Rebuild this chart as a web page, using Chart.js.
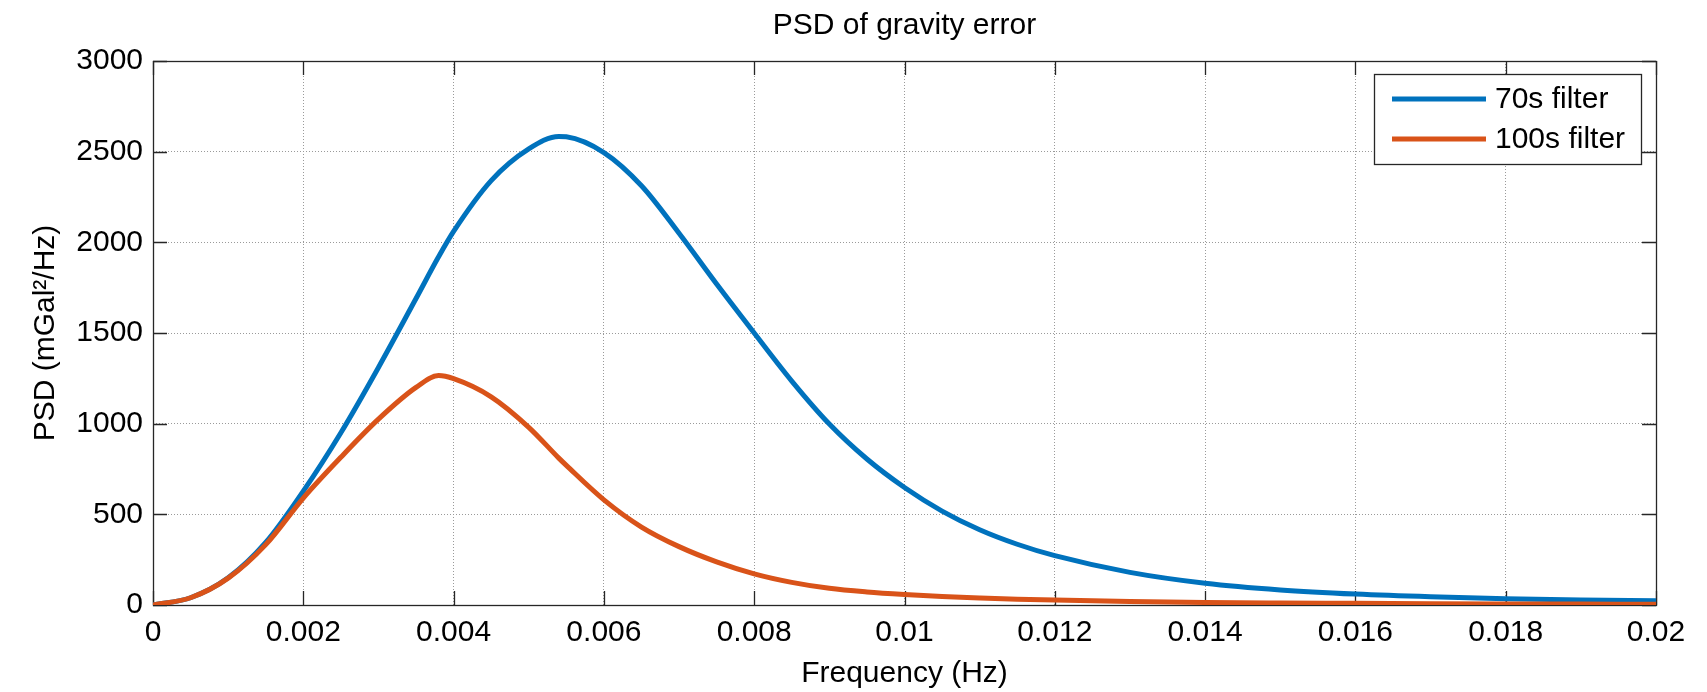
<!DOCTYPE html>
<html>
<head>
<meta charset="utf-8">
<title>PSD of gravity error</title>
<script src="https://cdn.jsdelivr.net/npm/chart.js@4.4.1/dist/chart.umd.min.js"></script>
<style>
  html, body { margin: 0; padding: 0; background: #fff; }
  #wrap { width: 1707px; height: 692px; }
</style>
</head>
<body>
<div id="wrap"><canvas id="psd" width="1707" height="692"></canvas></div>
<script>
/* ================= DATA ================= */
const freq = [
  0, 0.0005, 0.001, 0.0015, 0.002, 0.0025, 0.003, 0.0035, 0.0038, 0.004,
  0.0045, 0.005, 0.0054, 0.0055, 0.006, 0.0065, 0.007, 0.0075, 0.008, 0.0085,
  0.009, 0.0095, 0.01, 0.0105, 0.011, 0.0115, 0.012, 0.013, 0.014, 0.015,
  0.016, 0.017, 0.018, 0.019, 0.02
];
const psd70 = [
  0, 40, 150, 345, 628, 950, 1310, 1690, 1920, 2060,
  2340, 2515, 2584, 2582, 2495, 2312, 2050, 1770, 1500, 1235,
  998, 805, 648, 518, 415, 335, 272, 180, 120, 83,
  60, 45, 35, 28, 23
];
const psd100 = [
  0, 40, 148, 333, 590, 815, 1025, 1200, 1265, 1248,
  1148, 980, 810, 770, 580, 430, 322, 238, 172, 125,
  92, 72, 58, 47, 39, 32, 27, 19, 14, 11,
  9, 7, 6, 5, 4
];
const seriesNames = ["70s filter", "100s filter"];
const seriesColors = ["#0072BD", "#D95319"];

const xTicks = [0, 0.002, 0.004, 0.006, 0.008, 0.01, 0.012, 0.014, 0.016, 0.018, 0.02];
const xTickLabels = ["0", "0.002", "0.004", "0.006", "0.008", "0.01", "0.012", "0.014", "0.016", "0.018", "0.02"];
const yTicks = [0, 500, 1000, 1500, 2000, 2500, 3000];
const yTickLabels = ["0", "500", "1000", "1500", "2000", "2500", "3000"];

/* ================= STYLE ================= */
const FONT = "'Liberation Sans', Arial, Helvetica, sans-serif";
const FONT_SIZE = 30;
const AXIS_COLOR = "#262626";
const TICK_LEN = 14;
const LINE_W = 5;

Chart.defaults.font.family = FONT;
Chart.defaults.font.size = FONT_SIZE;
Chart.defaults.color = "#000";

/* ================= PLUGINS ================= */
// box + inward ticks on all four sides
const matlabAxes = {
  id: "matlabAxes",
  beforeDatasetsDraw(chart) {
    const { ctx, chartArea: a, scales: { x, y } } = chart;
    ctx.save();
    ctx.strokeStyle = AXIS_COLOR;
    ctx.lineWidth = 1.3;
    ctx.beginPath();
    xTicks.forEach(v => {
      const px = Math.round(x.getPixelForValue(v)) + 0.5;
      ctx.moveTo(px, a.bottom); ctx.lineTo(px, a.bottom - TICK_LEN);
      ctx.moveTo(px, a.top); ctx.lineTo(px, a.top + TICK_LEN);
    });
    yTicks.forEach(v => {
      const py = Math.round(y.getPixelForValue(v)) + 0.5;
      ctx.moveTo(a.left, py); ctx.lineTo(a.left + TICK_LEN, py);
      ctx.moveTo(a.right, py); ctx.lineTo(a.right - TICK_LEN, py);
    });
    ctx.stroke();
    ctx.strokeRect(Math.round(a.left) + 0.5, Math.round(a.top) + 0.5,
      Math.round(a.width), Math.round(a.height));
    ctx.restore();
  }
};

// legend box in the top right corner of the plot
const boxLegend = {
  id: "boxLegend",
  afterDraw(chart) {
    const { ctx, chartArea: a } = chart;
    const w = 267, h = 90;
    const bx = a.right - 15 - w;
    const by = a.top + 13;
    ctx.save();
    ctx.fillStyle = "#fff";
    ctx.fillRect(bx, by, w, h);
    ctx.strokeStyle = AXIS_COLOR;
    ctx.lineWidth = 1.3;
    ctx.strokeRect(bx + 0.5, by + 0.5, w, h);
    ctx.font = FONT_SIZE + "px " + FONT;
    ctx.textBaseline = "middle";
    ctx.fillStyle = "#000";
    chart.data.datasets.forEach((ds, i) => {
      const ry = by + 25 + i * 40;
      ctx.strokeStyle = ds.borderColor;
      ctx.lineWidth = LINE_W;
      ctx.beginPath();
      ctx.moveTo(bx + 18, ry);
      ctx.lineTo(bx + 112, ry);
      ctx.stroke();
      ctx.fillText(ds.label, bx + 121, ry + 1);
    });
    ctx.restore();
  }
};

/* ================= CHART ================= */
const toPoints = vals => freq.map((f, i) => ({ x: f, y: vals[i] }));

new Chart(document.getElementById("psd"), {
  type: "line",
  data: {
    datasets: [
      {
        label: seriesNames[0],
        data: toPoints(psd70),
        borderColor: seriesColors[0],
        backgroundColor: seriesColors[0],
        order: 1
      },
      {
        label: seriesNames[1],
        data: toPoints(psd100),
        borderColor: seriesColors[1],
        backgroundColor: seriesColors[1],
        order: 0
      }
    ]
  },
  options: {
    responsive: false,
    animation: false,
    devicePixelRatio: 1,
    layout: { padding: { left: 0, right: 51, top: 0, bottom: 0 } },
    elements: {
      point: { radius: 0 },
      line: { borderWidth: LINE_W, cubicInterpolationMode: "monotone", fill: false }
    },
    plugins: {
      legend: { display: false },
      tooltip: { enabled: false },
      title: {
        display: true,
        text: "PSD of gravity error",
        fullSize: false,
        color: "#000",
        font: { size: FONT_SIZE, weight: "normal" },
        padding: { top: 8, bottom: 17 }
      }
    },
    scales: {
      x: {
        type: "linear",
        min: 0,
        max: 0.02,
        afterBuildTicks: s => { s.ticks = xTicks.map(v => ({ value: v })); },
        afterFit: s => { s.height = 87; },
        ticks: {
          autoSkip: false,
          maxRotation: 0,
          padding: 10,
          color: "#000",
          callback: (v, i) => xTickLabels[i]
        },
        grid: { color: "#9a9a9a", lineWidth: 1, drawTicks: false },
        border: { display: false, dash: [1, 2] },
        title: {
          display: true,
          text: "Frequency (Hz)",
          color: "#000",
          padding: { top: 2, bottom: 0 }
        }
      },
      y: {
        type: "linear",
        min: 0,
        max: 3000,
        afterBuildTicks: s => { s.ticks = yTicks.map(v => ({ value: v })); },
        afterFit: s => { s.width = 153; },
        ticks: {
          padding: 10,
          color: "#000",
          callback: (v, i) => yTickLabels[i]
        },
        grid: { color: "#9a9a9a", lineWidth: 1, drawTicks: false },
        border: { display: false, dash: [1, 2] },
        title: {
          display: true,
          text: "PSD (mGal²/Hz)",
          color: "#000",
          padding: { top: 28, bottom: 0 }
        }
      }
    }
  },
  plugins: [matlabAxes, boxLegend]
});
</script>
</body>
</html>
